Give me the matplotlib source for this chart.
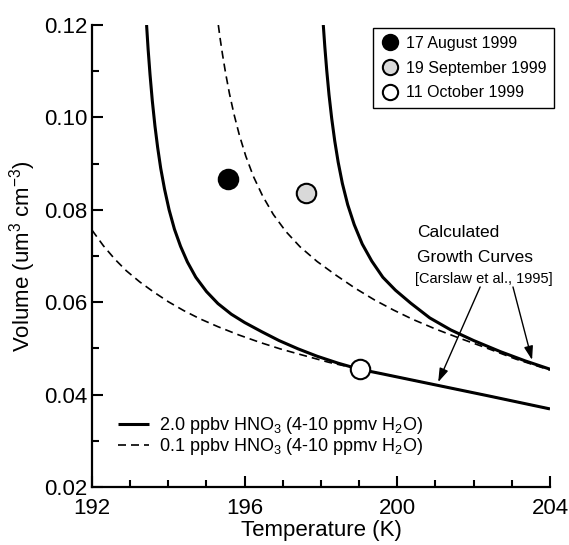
import matplotlib
matplotlib.use("Agg")
import matplotlib.pyplot as plt
from matplotlib.lines import Line2D
from matplotlib.ticker import MultipleLocator, FormatStrFormatter

plt.rcParams['font.family'] = ['Liberation Sans', 'DejaVu Sans']
plt.rcParams['mathtext.default'] = 'regular'

# ---- data ----
# 2.0 ppbv HNO3, lower branch (solid)
t_solid_low = [193.43, 193.47, 193.52, 193.58, 193.65, 193.72, 193.80, 193.90, 194.02,
               194.16, 194.32, 194.50, 194.72, 195.00, 195.30, 195.65, 196.00, 196.45,
               196.90, 197.40, 197.90, 198.45, 199.00, 199.60, 200.30, 201.00, 201.70,
               202.40, 203.20, 204.00]
v_solid_low = [0.1200, 0.1148, 0.1093, 0.1036, 0.0981, 0.0935, 0.0890, 0.0845, 0.0800,
               0.0758, 0.0721, 0.0687, 0.0654, 0.0623, 0.0597, 0.0574, 0.0556, 0.0536,
               0.0517, 0.0499, 0.0483, 0.0468, 0.0455, 0.0445, 0.0433, 0.0421, 0.0409,
               0.0397, 0.0383, 0.0369]
# 2.0 ppbv HNO3, upper branch (solid)
t_solid_up = [198.06, 198.10, 198.15, 198.21, 198.28, 198.36, 198.45, 198.56, 198.70,
              198.87, 199.08, 199.33, 199.62, 199.95, 200.35, 200.85, 201.40, 202.00,
              202.70, 203.35, 204.00]
v_solid_up = [0.1200, 0.1153, 0.1102, 0.1049, 0.0998, 0.0949, 0.0903, 0.0857, 0.0811,
              0.0768, 0.0726, 0.0689, 0.0654, 0.0626, 0.0598, 0.0566, 0.0540, 0.0517,
              0.0493, 0.0473, 0.0455]
# 0.1 ppbv HNO3, upper branch (dashed)
t_dash_up = [195.31, 195.36, 195.42, 195.50, 195.60, 195.72, 195.86, 196.03, 196.23,
             196.47, 196.75, 197.08, 197.45, 197.90, 198.40, 198.90, 199.40, 199.90,
             200.40, 201.00, 201.60, 202.30, 203.10, 204.00]
v_dash_up = [0.1200, 0.1169, 0.1136, 0.1096, 0.1052, 0.1007, 0.0962, 0.0916, 0.0872,
             0.0830, 0.0790, 0.0753, 0.0720, 0.0688, 0.0658, 0.0630, 0.0605, 0.0583,
             0.0563, 0.0542, 0.0523, 0.0502, 0.0477, 0.0453]
# 0.1 ppbv HNO3, lower branch (dashed)
t_dash_low = [192.0, 192.3, 192.6, 192.9, 193.25, 193.6, 194.0, 194.4, 194.83, 195.3,
              195.85, 196.4, 196.93, 197.45, 198.2, 199.0, 199.6, 200.3, 201.0, 201.7,
              202.4, 203.2, 204.0]
v_dash_low = [0.0756, 0.0722, 0.0693, 0.0668, 0.0644, 0.0623, 0.0601, 0.0582, 0.0564, 0.0547,
              0.0529, 0.0513, 0.0499, 0.0487, 0.0470, 0.0455, 0.0445, 0.0433, 0.0421, 0.0409,
              0.0397, 0.0383, 0.0369]

obs_labels = ['17 August 1999', '19 September 1999', '11 October 1999']
obs_temp = [195.56, 197.61, 199.02]
obs_vol = [0.0867, 0.0836, 0.0455]
obs_face = ['black', '#d9d9d9', 'white']

line_labels = ['2.0 ppbv HNO$_3$ (4-10 ppmv H$_2$O)', '0.1 ppbv HNO$_3$ (4-10 ppmv H$_2$O)']

x_ticks = [192, 196, 200, 204]
y_ticks = [0.02, 0.04, 0.06, 0.08, 0.10, 0.12]

# ---- figure ----
fig = plt.figure(figsize=(5.69, 5.45), dpi=100)
ax = fig.add_axes([92/569, 1-487/545, 458/569, 462/545])

solid_kw = dict(color='black', lw=2.2, solid_capstyle='butt', solid_joinstyle='round')
dash_kw = dict(color='black', lw=1.2, linestyle=(0, (4.8, 3.0)))

ax.plot(t_dash_low, v_dash_low, **dash_kw)
ax.plot(t_dash_up, v_dash_up, **dash_kw)
ax.plot(t_solid_low, v_solid_low, **solid_kw)
ax.plot(t_solid_up, v_solid_up, **solid_kw)

for t, v, fc in zip(obs_temp, obs_vol, obs_face):
    ax.plot([t], [v], marker='o', ms=14, mfc=fc, mec='black', mew=1.5,
            linestyle='none', zorder=5)

ax.set_xlim(192, 204)
ax.set_ylim(0.02, 0.12)
ax.set_xticks(x_ticks)
ax.set_yticks(y_ticks)
ax.xaxis.set_minor_locator(MultipleLocator(1))
ax.yaxis.set_minor_locator(MultipleLocator(0.01))
ax.yaxis.set_major_formatter(FormatStrFormatter('%.2f'))
ax.tick_params(which='both', direction='in', width=1.5, labelsize=16)
ax.tick_params(which='major', length=8)
ax.tick_params(which='minor', length=5)
ax.tick_params(axis='y', pad=3)
ax.tick_params(axis='x', pad=8)
for s in ['top', 'right']:
    ax.spines[s].set_visible(False)
for s in ['left', 'bottom']:
    ax.spines[s].set_linewidth(1.6)

ax.set_xlabel('Temperature (K)', fontsize=16, labelpad=0.5)
ax.set_ylabel('Volume (um$^3$ cm$^{-3}$)', fontsize=16, labelpad=5)

# marker legend
handles = [Line2D([], [], marker='o', ms=11, mfc=fc, mec='black', mew=1.5,
                  linestyle='none') for fc in obs_face]
leg1 = ax.legend(handles, obs_labels, loc='upper right',
                 bbox_to_anchor=(554/569, 1-28/545), bbox_transform=fig.transFigure,
                 borderaxespad=0, fontsize=11.5, frameon=True, fancybox=False,
                 edgecolor='black', framealpha=1, borderpad=0.5, labelspacing=0.6,
                 handlelength=1.1, handletextpad=0.45, markerscale=1.0)
leg1.get_frame().set_linewidth(1.0)
ax.add_artist(leg1)

# line legend
lh = [Line2D([], [], **solid_kw), Line2D([], [], **dash_kw)]
ax.legend(lh, line_labels, loc='lower left', bbox_to_anchor=(26/458, 30/462),
          borderaxespad=0, borderpad=0, fontsize=13, frameon=False,
          labelspacing=0.0, handlelength=1.7, handletextpad=0.55)

# annotation text and arrows
ax.text(200.51, 0.0741, 'Calculated', fontsize=12.5, va='baseline', ha='left')
ax.text(200.51, 0.0687, 'Growth Curves', fontsize=12.5, va='baseline', ha='left')
ax.text(200.47, 0.0641, '[Carslaw et al., 1995]', fontsize=10.5, va='baseline', ha='left')
arrow_kw = dict(arrowstyle='-|>,head_length=0.55,head_width=0.18', color='black',
                lw=1.0, mutation_scale=15, shrinkA=0, shrinkB=0)
ax.annotate('', xy=(201.07, 0.0427), xytext=(202.17, 0.0633), arrowprops=arrow_kw)
ax.annotate('', xy=(203.53, 0.0475), xytext=(203.03, 0.0633), arrowprops=arrow_kw)

fig.savefig('out.png', dpi=100)
